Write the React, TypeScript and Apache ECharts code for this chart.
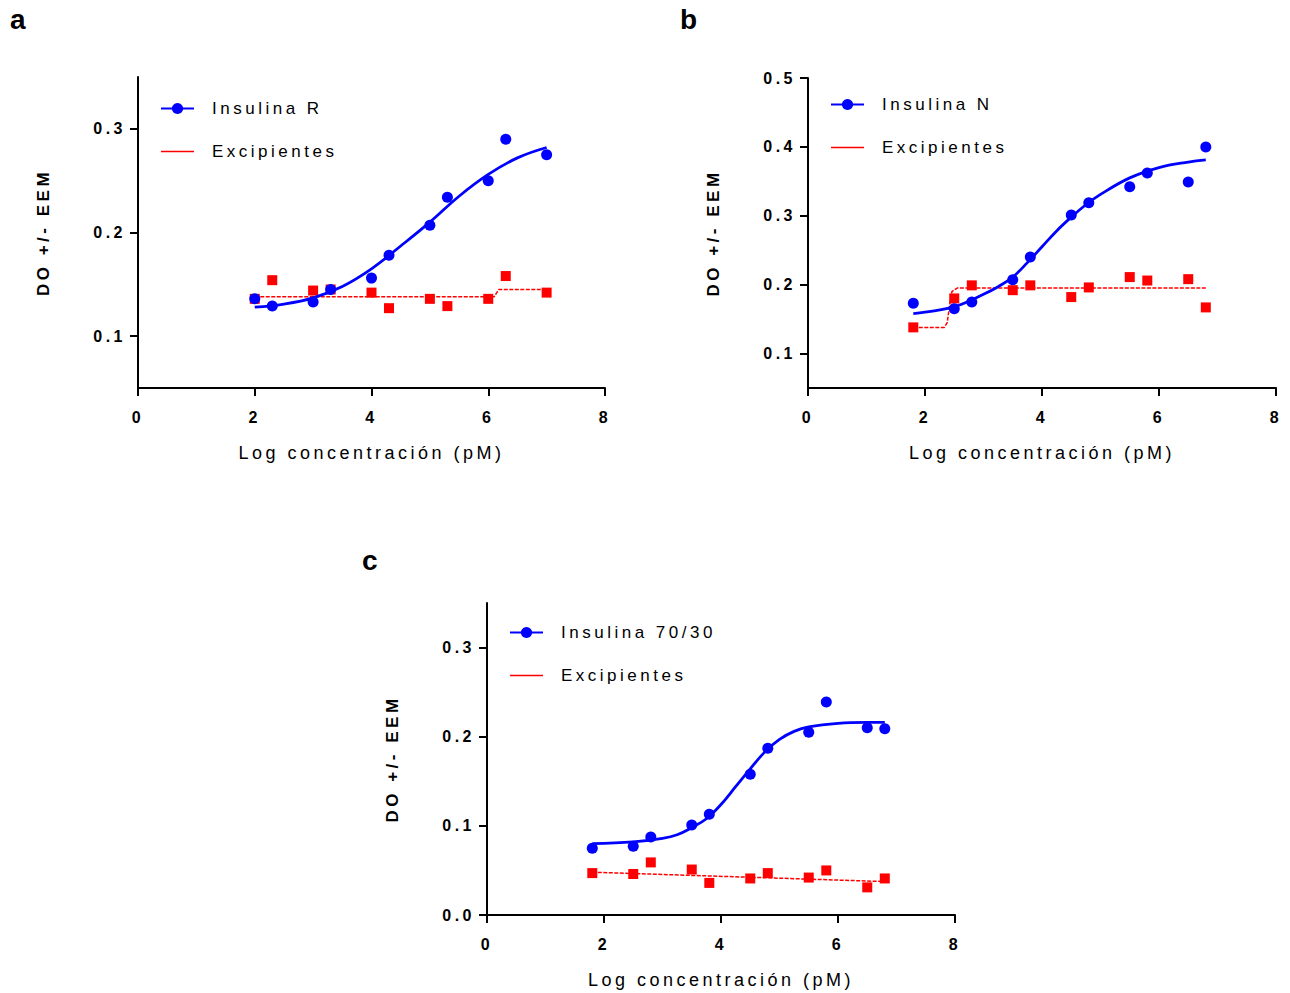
import React, { useEffect, useRef } from "react";
import * as echarts from "echarts";

// ---- shared axis ticks ----
const xTicks = [0, 2, 4, 6, 8];

// ---- panel a : Insulina R ----
const aX = [2, 2.3, 3, 3.3, 4, 4.3, 5, 5.3, 6, 6.3, 7];
const aInsulinY = [0.136, 0.129, 0.133, 0.145, 0.156, 0.178, 0.207, 0.234, 0.25, 0.29, 0.275];
const aExcipY = [0.136, 0.154, 0.144, 0.145, 0.142, 0.127, 0.136, 0.129, 0.136, 0.158, 0.142];
const aFitX = [2, 2.5, 3, 3.5, 4, 4.5, 5, 5.5, 6, 6.5, 7];
const aFitY = [0.128, 0.131, 0.137, 0.148, 0.165, 0.187, 0.21, 0.235, 0.256, 0.272, 0.282];
const aExcipFitX = [2, 6.1, 6.18, 7];
const aExcipFitY = [0.138, 0.138, 0.145, 0.145];
const aYTicks = [0.1, 0.2, 0.3];

// ---- panel b : Insulina N ----
const bX = [1.8, 2.5, 2.8, 3.5, 3.8, 4.5, 4.8, 5.5, 5.8, 6.5, 6.8];
const bInsulinY = [0.173, 0.165, 0.175, 0.207, 0.24, 0.301, 0.319, 0.342, 0.362, 0.349, 0.4];
const bExcipY = [0.138, 0.18, 0.199, 0.192, 0.199, 0.182, 0.196, 0.211, 0.206, 0.208, 0.167];
const bFitX = [1.8, 2, 2.5, 3, 3.25, 3.5, 3.75, 4, 4.25, 4.5, 4.75, 5, 5.5, 6, 6.5, 6.8];
const bFitY = [0.158, 0.16, 0.168, 0.186, 0.197, 0.211, 0.232, 0.255, 0.278, 0.298, 0.316, 0.331, 0.355, 0.37, 0.378, 0.381];
const bExcipFitX = [1.8, 2.33, 2.38, 2.42, 2.46, 2.55, 6.8];
const bExcipFitY = [0.138, 0.138, 0.145, 0.17, 0.19, 0.195, 0.195];
const bYTicks = [0.1, 0.2, 0.3, 0.4, 0.5];

// ---- panel c : Insulina 70/30 ----
const cX = [1.8, 2.5, 2.8, 3.5, 3.8, 4.5, 4.8, 5.5, 5.8, 6.5, 6.8];
const cInsulinY = [0.075, 0.077, 0.0875, 0.101, 0.113, 0.158, 0.187, 0.205, 0.239, 0.21, 0.209];
const cExcipY = [0.047, 0.046, 0.059, 0.051, 0.036, 0.041, 0.047, 0.042, 0.05, 0.031, 0.041];
const cFitX = [1.8, 2.5, 3, 3.25, 3.5, 3.75, 4, 4.25, 4.5, 4.75, 5, 5.25, 5.5, 6, 6.5, 6.8];
const cFitY = [0.08, 0.082, 0.086, 0.09, 0.098, 0.108, 0.124, 0.144, 0.164, 0.183, 0.197, 0.206, 0.211, 0.215, 0.216, 0.216];
const cExcipFitX = [1.8, 6.8];
const cExcipFitY = [0.048, 0.0375];
const cYTicks = [0, 0.1, 0.2, 0.3];

const FONT = '"Liberation Sans", Arial, Helvetica, sans-serif';
const BLUE = "#0000ff";
const RED = "#ff0000";

const zip = (xs: number[], ys: number[]) => xs.map((x, i) => [x, ys[i]]);

type Panel = {
  label: string;
  insulin: string;
  x: number[];
  insY: number[];
  excY: number[];
  fitX: number[];
  fitY: number[];
  excFitX: number[];
  excFitY: number[];
  yMin: number;
  yMax: number;
  yTicks: number[];
  left: number;
  top: number;
  width: number;
  height: number;
  legendTop: number;
  letterX: number;
  letterY: number;
};

const panels: Panel[] = [
  {
    label: "a", insulin: "Insulina R", x: aX, insY: aInsulinY, excY: aExcipY,
    fitX: aFitX, fitY: aFitY, excFitX: aExcipFitX, excFitY: aExcipFitY,
    yMin: 0.05, yMax: 0.35, yTicks: aYTicks,
    left: 138, top: 77, width: 467, height: 311, legendTop: 108, letterX: 10, letterY: 27,
  },
  {
    label: "b", insulin: "Insulina N", x: bX, insY: bInsulinY, excY: bExcipY,
    fitX: bFitX, fitY: bFitY, excFitX: bExcipFitX, excFitY: bExcipFitY,
    yMin: 0.05, yMax: 0.5, yTicks: bYTicks,
    left: 808, top: 78, width: 468, height: 310, legendTop: 104, letterX: 680, letterY: 27,
  },
  {
    label: "c", insulin: "Insulina 70/30", x: cX, insY: cInsulinY, excY: cExcipY,
    fitX: cFitX, fitY: cFitY, excFitX: cExcipFitX, excFitY: cExcipFitY,
    yMin: 0, yMax: 0.35, yTicks: cYTicks,
    left: 487, top: 603, width: 468, height: 312, legendTop: 632, letterX: 362, letterY: 568,
  },
];

export default function App() {
  const ref = useRef<HTMLDivElement>(null);

  useEffect(() => {
    if (!ref.current) return;
    const chart = echarts.init(ref.current, null, { renderer: "svg" });

    const grid: any[] = [];
    const xAxis: any[] = [];
    const yAxis: any[] = [];
    const legend: any[] = [];
    const series: any[] = [];
    const graphic: any[] = [];

    panels.forEach((p, i) => {
      grid.push({ left: p.left, top: p.top, width: p.width, height: p.height, containLabel: false });
      xAxis.push({
        type: "value",
        gridIndex: i,
        min: 0,
        max: 8,
        interval: 2,
        name: "Log concentración (pM)",
        nameLocation: "middle",
        nameGap: 56,
        nameTextStyle: { fontSize: 18, color: "#000", fontFamily: FONT },
        axisLine: { show: true, onZero: false, lineStyle: { color: "#000", width: 2 } },
        axisTick: { show: true, length: 8, lineStyle: { color: "#000", width: 2 }, customValues: xTicks },
        axisLabel: {
          fontSize: 16, fontWeight: "bold", color: "#000", fontFamily: FONT, margin: 21,
          customValues: xTicks,
          formatter: (v: number) => String(v),
        },
        splitLine: { show: false },
      });
      yAxis.push({
        type: "value",
        gridIndex: i,
        min: p.yMin,
        max: p.yMax,
        name: "DO +/- EEM",
        nameLocation: "middle",
        nameGap: 86,
        nameTextStyle: { fontSize: 17, fontWeight: "bold", color: "#000", fontFamily: FONT },
        axisLine: { show: true, onZero: false, lineStyle: { color: "#000", width: 2 } },
        axisTick: { show: true, length: 8, lineStyle: { color: "#000", width: 2 }, customValues: p.yTicks },
        axisLabel: {
          fontSize: 16, fontWeight: "bold", color: "#000", fontFamily: FONT, margin: 12,
          customValues: p.yTicks,
          formatter: (v: number) => v.toFixed(1),
        },
        splitLine: { show: false },
      });
      legend.push({
        orient: "vertical",
        left: p.left + 22 - 5,
        top: p.legendTop - 8 - 5,
        itemWidth: 33,
        itemHeight: 14,
        itemGap: 26,
        selectedMode: false,
        textStyle: { fontSize: 17, color: "#000", fontFamily: FONT, padding: [0, 0, 0, 13] },
        data: [
          { name: p.insulin },
          { name: "Excipientes", icon: "path://M0,0H33V1.3H0Z" },
        ],
      });
      // red fit line
      series.push({
        type: "line",
        name: "Excipientes",
        xAxisIndex: i,
        yAxisIndex: i,
        data: zip(p.excFitX, p.excFitY),
        symbol: "none",
        lineStyle: { color: RED, width: 1.5, type: [4, 1.5] },
        itemStyle: { color: RED },
        z: 2,
      });
      // red squares
      series.push({
        type: "scatter",
        name: "Excipientes",
        xAxisIndex: i,
        yAxisIndex: i,
        data: zip(p.x, p.excY),
        symbol: "rect",
        symbolSize: 10,
        itemStyle: { color: RED, opacity: 1 },
        z: 3,
      });
      // blue fit line
      series.push({
        type: "line",
        name: p.insulin,
        xAxisIndex: i,
        yAxisIndex: i,
        data: zip(p.fitX, p.fitY),
        smooth: 0.4,
        symbol: "circle",
        showSymbol: false,
        lineStyle: { color: BLUE, width: 2.8 },
        itemStyle: { color: BLUE },
        z: 4,
      });
      // blue points
      series.push({
        type: "scatter",
        name: p.insulin,
        xAxisIndex: i,
        yAxisIndex: i,
        data: zip(p.x, p.insY),
        symbol: "circle",
        symbolSize: 11,
        itemStyle: { color: BLUE, opacity: 1 },
        z: 5,
      });
      graphic.push({
        type: "text",
        left: p.letterX,
        top: p.letterY - 22,
        style: { text: p.label, fontSize: 28, fontWeight: "bold", fill: "#000", fontFamily: FONT },
      });
    });

    chart.setOption({
      animation: false,
      backgroundColor: "#fff",
      grid,
      xAxis,
      yAxis,
      legend,
      series,
      graphic,
    });

    return () => chart.dispose();
  }, []);

  return (
    <>
      <style>{"#chart svg text{letter-spacing:3.5px}"}</style>
      <div
        id="chart"
        ref={ref}
        style={{ position: "absolute", left: 0, top: 0, width: 1290, height: 993 }}
      />
    </>
  );
}
